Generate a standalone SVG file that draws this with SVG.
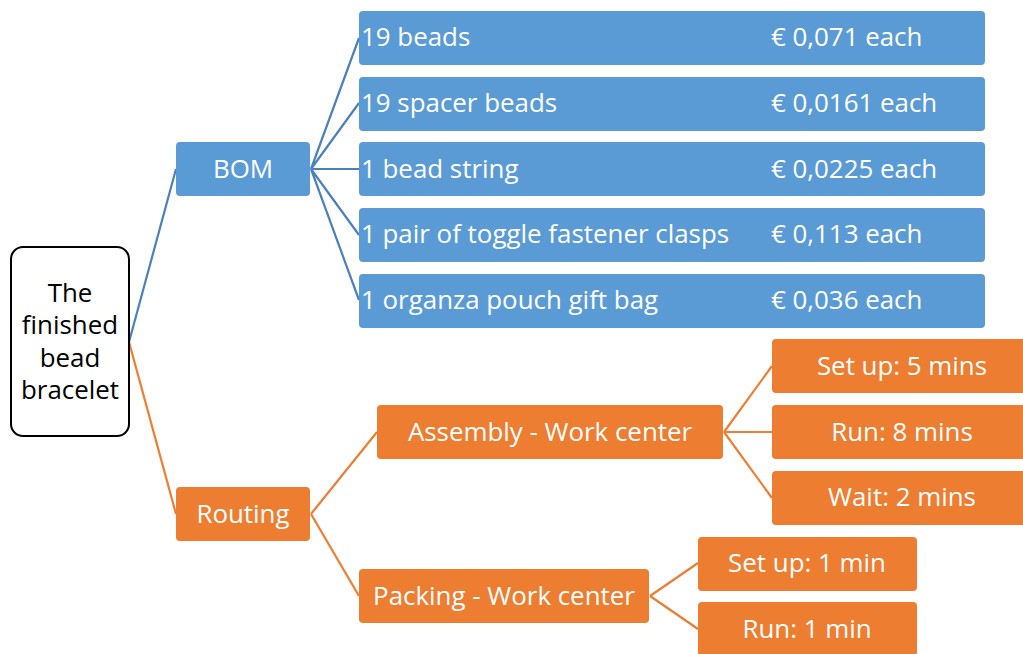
<svg xmlns="http://www.w3.org/2000/svg" width="1023" height="654" viewBox="0 0 1023 654">
<style>
text{font-family:"Open Sans","Liberation Sans",sans-serif;font-size:25.9px;fill:#fff}
.c{text-anchor:middle}
.blue{fill:#5B9BD5}
.orange{fill:#ED7D31}
.lb{stroke:#4A80BE;stroke-width:2.2;fill:none}
.lo{stroke:#ED7D31;stroke-width:2.2;fill:none}
</style>
<rect width="1023" height="654" fill="#fff"/>
<g id="connectors">
<path class="lb" d="M129,342 L176,169"/>
<path class="lo" d="M129,342 L176,514"/>
<path class="lb" d="M311,169 L359,38 M311,169 L359,103 M311,169 L359,169 M311,169 L359,235 M311,169 L359,300"/>
<path class="lo" d="M311,514 L377,432 M311,514 L359,596"/>
<path class="lo" d="M724,432 L772,366 M724,432 L772,432 M724,432 L772,498"/>
<path class="lo" d="M650,596 L698,563 M650,596 L698,629"/>
</g>
<g id="root">
<rect x="11" y="247" width="118" height="189" rx="12" fill="#fff" stroke="#000" stroke-width="2"/>
<text class="c" x="70" y="302" style="fill:#000">The</text>
<text class="c" x="70" y="334" style="fill:#000">finished</text>
<text class="c" x="70" y="367" style="fill:#000">bead</text>
<text class="c" x="70" y="399" style="fill:#000">bracelet</text>
</g>
<g id="bom">
<rect class="blue" x="176" y="142" width="134" height="54" rx="4"/>
<text class="c" x="243" y="178">BOM</text>
</g>
<g id="bom1">
<rect class="blue" x="359" y="11" width="626" height="54" rx="4"/>
<text x="361" y="46">19 beads</text>
<text x="771" y="46">€ 0,071 each</text>
</g>
<g id="bom2">
<rect class="blue" x="359" y="77" width="626" height="54" rx="4"/>
<text x="361" y="112">19 spacer beads</text>
<text x="771" y="112">€ 0,0161 each</text>
</g>
<g id="bom3">
<rect class="blue" x="359" y="142" width="626" height="54" rx="4"/>
<text x="361" y="178">1 bead string</text>
<text x="771" y="178">€ 0,0225 each</text>
</g>
<g id="bom4">
<rect class="blue" x="359" y="208" width="626" height="54" rx="4"/>
<text x="361" y="243">1 pair of toggle fastener clasps</text>
<text x="771" y="243">€ 0,113 each</text>
</g>
<g id="bom5">
<rect class="blue" x="359" y="274" width="626" height="54" rx="4"/>
<text x="361" y="309">1 organza pouch gift bag</text>
<text x="771" y="309">€ 0,036 each</text>
</g>
<g id="routing">
<rect class="orange" x="176" y="487" width="134" height="54" rx="4"/>
<text class="c" x="243" y="523">Routing</text>
</g>
<g id="assembly">
<rect class="orange" x="377" y="405" width="346" height="54" rx="4"/>
<text class="c" x="550" y="441">Assembly - Work center</text>
</g>
<g id="packing">
<rect class="orange" x="359" y="569" width="290" height="54" rx="4"/>
<text class="c" x="504" y="605">Packing - Work center</text>
</g>
<g id="asm-setup">
<rect class="orange" x="772" y="339" width="262" height="54" rx="4"/>
<text class="c" x="902" y="375">Set up: 5 mins</text>
</g>
<g id="asm-run">
<rect class="orange" x="772" y="405" width="262" height="54" rx="4"/>
<text class="c" x="902" y="441">Run: 8 mins</text>
</g>
<g id="asm-wait">
<rect class="orange" x="772" y="471" width="262" height="54" rx="4"/>
<text class="c" x="902" y="506">Wait: 2 mins</text>
</g>
<g id="pack-setup">
<rect class="orange" x="698" y="537" width="219" height="54" rx="4"/>
<text class="c" x="807" y="572">Set up: 1 min</text>
</g>
<g id="pack-run">
<rect class="orange" x="698" y="602" width="219" height="54" rx="4"/>
<text class="c" x="807" y="638">Run: 1 min</text>
</g>
</svg>
